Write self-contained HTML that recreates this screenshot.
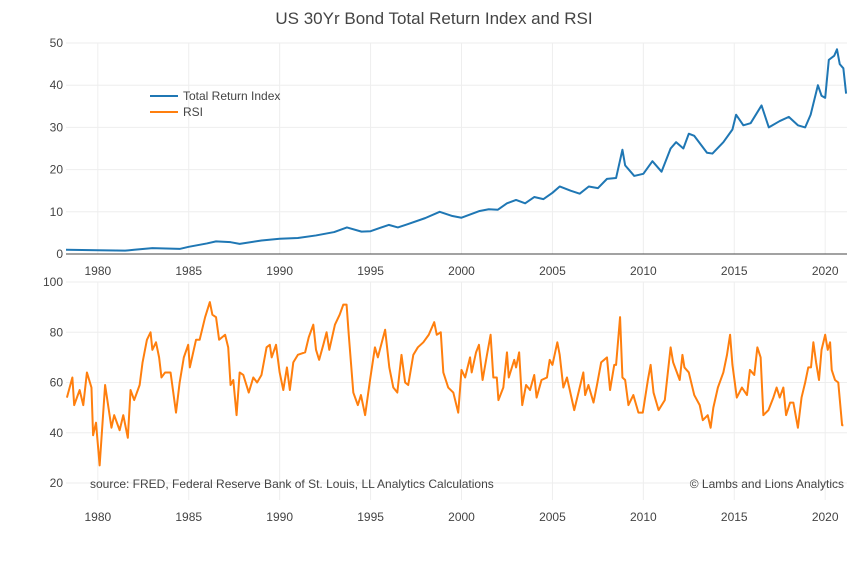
<!DOCTYPE html>
<html><head><meta charset="utf-8"><style>
body{margin:0;background:#fff;font-family:"Liberation Sans",sans-serif}
svg text{font-family:"Liberation Sans",sans-serif;fill:#444;font-size:12px}
</style></head><body>
<svg id="c" width="868" height="557" xmlns="http://www.w3.org/2000/svg">
<text x="434" y="24" text-anchor="middle" style="font-size:17px">US 30Yr Bond Total Return Index and RSI</text>
<g id="grid"></g>
<g id="lines"></g>
<g>
<line x1="150" y1="96" x2="178" y2="96" stroke="#1f77b4" stroke-width="2"/>
<text x="183" y="100">Total Return Index</text>
<line x1="150" y1="112" x2="178" y2="112" stroke="#ff7f0e" stroke-width="2"/>
<text x="183" y="116">RSI</text>
</g>
<text x="90" y="488">source: FRED, Federal Reserve Bank of St. Louis, LL Analytics Calculations</text>
<text x="844" y="488" text-anchor="end">© Lambs and Lions Analytics</text>
</svg>
<script>
const xTicks=[1980,1985,1990,1995,2000,2005,2010,2015,2020];
const tTicks=[0,10,20,30,40,50];
const rTicks=[20,40,60,80,100];
const triDates=[1978.25,1980,1981.5,1982,1983,1984.5,1985,1986,1986.5,1987.3,1987.8,1989,1990,1991,1992,1993,1993.7,1994.5,1995,1996,1996.5,1997,1998,1998.8,1999.5,2000,2001,2001.5,2002,2002.5,2003,2003.5,2004,2004.5,2005,2005.4,2006,2006.5,2007,2007.5,2008,2008.5,2008.85,2009,2009.5,2010,2010.5,2011,2011.5,2011.8,2012.2,2012.5,2012.8,2013.5,2013.8,2014.4,2014.9,2015.1,2015.5,2015.9,2016.5,2016.9,2017.5,2018,2018.5,2018.9,2019.2,2019.6,2019.8,2020,2020.2,2020.5,2020.65,2020.8,2021,2021.15];
const triValues=[1.0,0.9,0.8,1.0,1.4,1.2,1.7,2.5,3.0,2.8,2.4,3.2,3.6,3.8,4.4,5.2,6.3,5.3,5.4,6.9,6.3,7.0,8.5,10.0,9.0,8.6,10.2,10.6,10.5,12.0,12.8,12.0,13.5,13.0,14.5,16.0,15.0,14.3,16.0,15.6,17.8,18.0,24.7,21,18.5,19,22,19.5,25,26.5,25,28.5,28,24,23.8,26.5,29.5,33,30.5,31,35.2,30,31.5,32.5,30.5,30,33,40,37.5,37,46,47,48.5,45,44,38];
const rsiDates=[1978.3,1978.6,1978.7,1979.0,1979.2,1979.4,1979.65,1979.74,1979.9,1980.1,1980.4,1980.75,1980.9,1981.2,1981.4,1981.65,1981.8,1982.0,1982.3,1982.46,1982.7,1982.9,1983.0,1983.2,1983.37,1983.5,1983.7,1984.0,1984.3,1984.5,1984.73,1984.97,1985.06,1985.4,1985.6,1985.9,1986.16,1986.3,1986.5,1986.67,1987.0,1987.17,1987.3,1987.45,1987.63,1987.8,1988.0,1988.3,1988.55,1988.76,1989.0,1989.28,1989.46,1989.56,1989.8,1990.0,1990.2,1990.4,1990.56,1990.75,1991.0,1991.4,1991.6,1991.85,1992.0,1992.17,1992.4,1992.58,1992.73,1993.04,1993.3,1993.5,1993.68,1993.8,1994.05,1994.3,1994.47,1994.7,1994.97,1995.24,1995.4,1995.8,1996.03,1996.25,1996.47,1996.7,1996.9,1997.07,1997.35,1997.6,1997.9,1998.2,1998.5,1998.64,1998.86,1999.0,1999.27,1999.55,1999.82,2000.0,2000.2,2000.47,2000.56,2000.8,2000.96,2001.16,2001.4,2001.6,2001.75,2001.94,2002.03,2002.3,2002.5,2002.6,2002.9,2003.0,2003.17,2003.34,2003.55,2003.77,2004.0,2004.13,2004.4,2004.7,2004.85,2005.0,2005.27,2005.4,2005.6,2005.8,2006.2,2006.5,2006.7,2006.8,2006.98,2007.26,2007.45,2007.68,2008.0,2008.17,2008.4,2008.5,2008.72,2008.85,2009.0,2009.18,2009.45,2009.73,2009.97,2010.25,2010.4,2010.56,2010.84,2011.18,2011.5,2011.64,2012.0,2012.15,2012.26,2012.5,2012.8,2013.1,2013.27,2013.54,2013.7,2013.85,2014.1,2014.4,2014.6,2014.77,2014.9,2015.14,2015.42,2015.7,2015.86,2016.1,2016.27,2016.45,2016.6,2016.88,2017.15,2017.33,2017.5,2017.7,2017.85,2018.07,2018.25,2018.5,2018.7,2018.9,2019.07,2019.22,2019.35,2019.5,2019.66,2019.8,2020.0,2020.14,2020.27,2020.36,2020.54,2020.72,2020.93,2021.0];
const rsiValues=[54,62,51,57,51,64,58,39,44,27,59,42,47,41,47,38,57,53,59,68,77,80,73,76,70,62,64,64,48,60,70,75,66,77,77,86,92,87,86,77,79,74,59,61,47,64,63,56,62,60,63,74,75,70,75,64,57,66,57,68,71,72,78,83,73,69,75,80,73,83,87,91,91,79,56,51,55,47,61,74,70,81,66,58,56,71,60,59,71,74,76,79,84,79,80,64,58,56,48,65,62,70,64,72,75,61,71,79,62,62,53,58,72,62,69,66,72,51,59,57,63,54,61,62,69,67,76,71,58,62,49,58,64,55,59,52,59,68,70,57,67,67,86,62,61,51,55,48,48,61,67,56,49,53,74,68,61,71,66,64,55,51,45,47,42,50,58,64,71,79,67,54,58,55,65,63,74,70,47,49,54,58,54,58,47,52,52,42,54,60,66,66,76,68,61,73,79,73,76,65,61,60,43,43];
const X0=1978.25,X1=2021.2,PX0=66,PX1=847;
const xs=v=>PX0+(v-X0)/(X1-X0)*(PX1-PX0);
const yT=v=>254-v*4.22;
const yR=v=>483-(v-20)*2.5125;
const NS='http://www.w3.org/2000/svg';
const grid=document.getElementById('grid'),lines=document.getElementById('lines');
function mk(t,a,p){const e=document.createElementNS(NS,t);for(const k in a)e.setAttribute(k,a[k]);p.appendChild(e);return e;}
xTicks.forEach(t=>{
 const x=xs(t);
 const g1=mk('line',{x1:x,x2:x,y1:43,y2:254,stroke:'#eee'},grid);
 
 
 const g2=mk('line',{x1:x,x2:x,y1:282,y2:500,stroke:'#eee'},grid);
 
 
 const l1=mk('text',{x:x,y:275,'text-anchor':'middle'},grid);l1.textContent=t;
 
 
 const l2=mk('text',{x:x,y:521,'text-anchor':'middle'},grid);l2.textContent=t;
 
 
});
tTicks.forEach(t=>{
 const y=yT(t);
 if(t>0){const g=mk('line',{x1:PX0,x2:PX1,y1:y,y2:y,stroke:'#eee'},grid);
 
 }
 const l=mk('text',{x:66-3,y:y+4,'text-anchor':'end'},grid);l.textContent=t;
 
 
});
const zl=mk('line',{x1:PX0,x2:PX1,y1:yT(0),y2:yT(0),stroke:'#444','stroke-width':1},grid);


rTicks.forEach(t=>{
 const y=yR(t);
 const g=mk('line',{x1:PX0,x2:PX1,y1:y,y2:y,stroke:'#eee'},grid);
 
 
 const l=mk('text',{x:66-3,y:y+4,'text-anchor':'end'},grid);l.textContent=t;
 
 
});
const p1=mk('polyline',{points:triDates.map((d,i)=>xs(d)+','+yT(triValues[i])).join(' '),fill:'none',stroke:'#1f77b4','stroke-width':2,'stroke-linejoin':'round'},lines);


const p2=mk('polyline',{points:rsiDates.map((d,i)=>xs(d)+','+yR(rsiValues[i])).join(' '),fill:'none',stroke:'#ff7f0e','stroke-width':2,'stroke-linejoin':'round'},lines);


</script>
</body></html>
